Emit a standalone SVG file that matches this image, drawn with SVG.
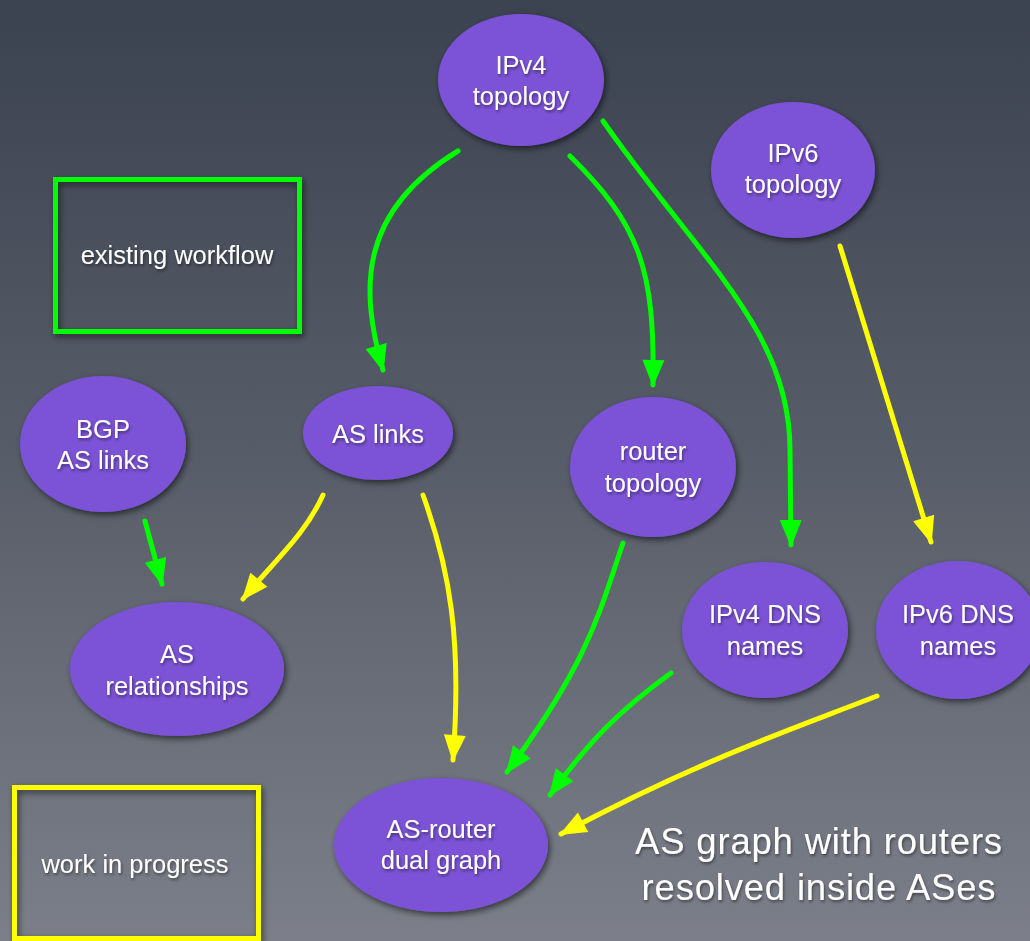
<svg xmlns="http://www.w3.org/2000/svg" width="1030" height="941" viewBox="0 0 1030 941">
<defs>
<linearGradient id="bg" x1="0" y1="0" x2="0" y2="1">
<stop offset="0" stop-color="#3b4250"/>
<stop offset="0.5" stop-color="#585e69"/>
<stop offset="1" stop-color="#7c7f89"/>
</linearGradient>
<filter id="sh" x="-20%" y="-20%" width="140%" height="140%">
<feDropShadow dx="2" dy="3" stdDeviation="3" flood-color="#000" flood-opacity="0.55"/>
</filter>
<filter id="tsh" x="-10%" y="-30%" width="120%" height="160%">
<feDropShadow dx="1" dy="2" stdDeviation="1.5" flood-color="#000" flood-opacity="0.45"/>
</filter>
<marker id="ag" markerUnits="userSpaceOnUse" markerWidth="30" markerHeight="24" refX="25" refY="12" orient="auto" overflow="visible">
<path d="M0,1 L27,12 L0,23 Z" fill="#00ff00"/>
</marker>
<marker id="ay" markerUnits="userSpaceOnUse" markerWidth="30" markerHeight="24" refX="25" refY="12" orient="auto" overflow="visible">
<path d="M0,1 L27,12 L0,23 Z" fill="#ffff00"/>
</marker>
</defs>
<style>
.n ellipse{fill:#7b52d6;filter:url(#sh)}
.t{font-family:"Liberation Sans",Arial,sans-serif;font-size:25.5px;fill:#ffffff;text-anchor:middle;filter:url(#tsh)}
.g{fill:none;stroke:#00ff00;stroke-width:5;stroke-linecap:round;marker-end:url(#ag)}
.y{fill:none;stroke:#ffff00;stroke-width:5;stroke-linecap:round;marker-end:url(#ay)}
.box{fill:none;stroke-width:5;filter:url(#sh)}
</style>
<rect x="0" y="0" width="1030" height="941" fill="url(#bg)"/>

<g id="legend-existing">
<rect class="box" x="55.5" y="179.5" width="244" height="152" stroke="#00ff00"/>
<text class="t" x="177" y="264">existing workflow</text>
</g>
<g id="legend-wip">
<rect class="box" x="14.5" y="787.5" width="244" height="151" stroke="#ffff00"/>
<text class="t" x="135" y="873">work in progress</text>
</g>

<g id="connectors">
<path class="g" d="M458,151 C358,212 360,290 383,370"/>
<path class="g" d="M570,156 C640,225 655,270 653,385"/>
<path class="g" d="M603,121 C700,260 790,330 790,450 L791,545"/>
<path class="g" d="M145,521 L162,584"/>
<path class="g" d="M623,543 C600,610 590,660 507,772"/>
<path class="g" d="M671,673 C620,710 590,740 550,795"/>
<path class="y" d="M840,246 L931,542"/>
<path class="y" d="M323,495 C305,535 275,560 243,599"/>
<path class="y" d="M423,495 C450,570 462,640 453,760"/>
<path class="y" d="M877,696 C790,730 700,760 561,834"/>
</g>

<g id="ipv4-topology" class="n">
<ellipse cx="521" cy="80" rx="83" ry="66"/>
<text class="t" x="521" y="74">IPv4</text>
<text class="t" x="521" y="105">topology</text>
</g>
<g id="ipv6-topology" class="n">
<ellipse cx="793" cy="170" rx="82" ry="68"/>
<text class="t" x="793" y="162">IPv6</text>
<text class="t" x="793" y="193">topology</text>
</g>
<g id="bgp-as-links" class="n">
<ellipse cx="103" cy="444" rx="83" ry="68"/>
<text class="t" x="103" y="438">BGP</text>
<text class="t" x="103" y="469">AS links</text>
</g>
<g id="as-links" class="n">
<ellipse cx="378" cy="433" rx="75" ry="47"/>
<text class="t" x="378" y="443">AS links</text>
</g>
<g id="router-topology" class="n">
<ellipse cx="653" cy="467" rx="83" ry="70"/>
<text class="t" x="653" y="460">router</text>
<text class="t" x="653" y="492">topology</text>
</g>
<g id="as-relationships" class="n">
<ellipse cx="177" cy="669" rx="107" ry="67"/>
<text class="t" x="177" y="663">AS</text>
<text class="t" x="177" y="695">relationships</text>
</g>
<g id="ipv4-dns-names" class="n">
<ellipse cx="765" cy="630" rx="83" ry="68"/>
<text class="t" x="765" y="623">IPv4 DNS</text>
<text class="t" x="765" y="655">names</text>
</g>
<g id="ipv6-dns-names" class="n">
<ellipse cx="958" cy="630" rx="82" ry="69"/>
<text class="t" x="958" y="623">IPv6 DNS</text>
<text class="t" x="958" y="655">names</text>
</g>
<g id="as-router-dual-graph" class="n">
<ellipse cx="441" cy="845" rx="107" ry="67"/>
<text class="t" x="441" y="838">AS-router</text>
<text class="t" x="441" y="869">dual graph</text>
</g>

<g id="caption">
<text class="t" x="819" y="854" style="font-size:36.5px;letter-spacing:0.8px">AS graph with routers</text>
<text class="t" x="819" y="900" style="font-size:36.5px;letter-spacing:0.8px">resolved inside ASes</text>
</g>
</svg>
